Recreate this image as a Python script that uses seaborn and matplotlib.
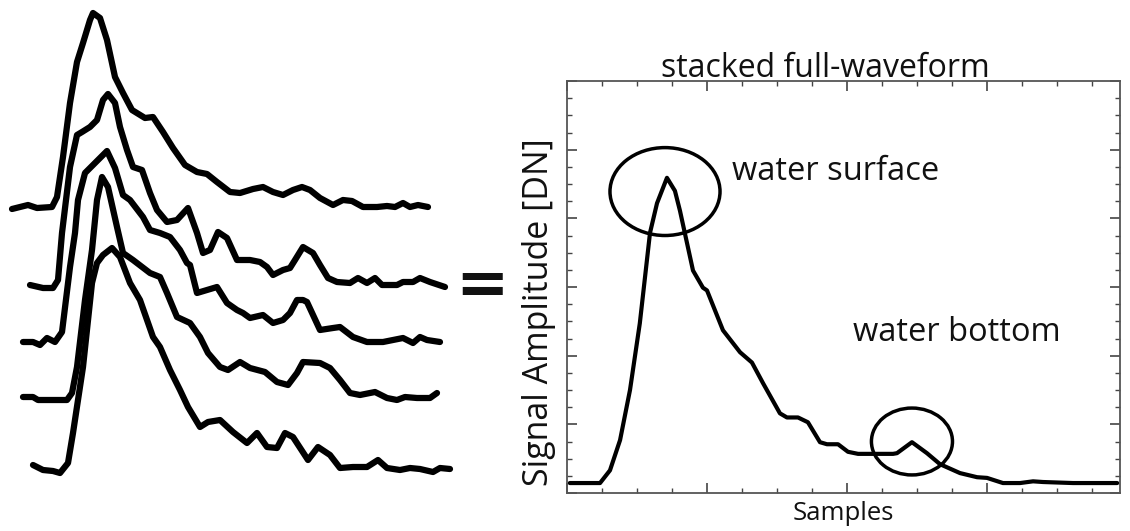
import seaborn as sns
import matplotlib.pyplot as plt
from matplotlib.patches import Ellipse
from matplotlib.ticker import MultipleLocator

# single waveforms (left panel), sample position and level
wave1_x = [12, 20, 28, 37, 52, 57, 63, 70, 77, 83, 90, 93, 100, 107, 115, 123, 132, 145, 153, 163,
           173, 185, 197, 207, 217, 230, 240, 253, 263, 273, 283, 293, 302, 310, 320, 333, 343, 352,
           363, 377, 387, 395, 403, 410, 418, 428]
wave1_y = [209, 207, 205, 208, 207, 197, 157, 103, 62, 43, 20, 13, 18, 40, 77, 93, 110, 118, 117, 132,
           148, 165, 172, 174, 182, 192, 193, 189, 187, 192, 195, 190, 187, 190, 198, 205, 200, 201,
           207, 207, 206, 207, 203, 207, 205, 207]

wave2_x = [30, 43, 53, 58, 62, 70, 77, 82, 90, 97, 103, 108, 115, 120, 127, 133, 142, 150, 157, 167,
           177, 188, 197, 203, 210, 218, 227, 237, 250, 260, 267, 273, 283, 290, 295, 303, 313, 320,
           328, 337, 350, 358, 367, 375, 382, 397, 403, 413, 420, 430, 445]
wave2_y = [285, 288, 288, 280, 233, 167, 135, 132, 127, 120, 100, 94, 103, 127, 150, 167, 170, 193, 210, 222,
           220, 208, 233, 253, 250, 232, 238, 260, 260, 262, 267, 275, 270, 268, 260, 247, 253, 265,
           278, 282, 283, 278, 283, 278, 285, 285, 282, 282, 278, 282, 287]

wave3_x = [23, 33, 40, 47, 55, 62, 70, 75, 78, 85, 95, 103, 107, 115, 123, 130, 143, 150, 160, 170,
           180, 187, 190, 197, 207, 217, 227, 237, 243, 250, 263, 273, 283, 290, 297, 303, 307, 320,
           333, 340, 353, 367, 383, 403, 413, 420, 427, 440]
wave3_y = [342, 342, 345, 338, 342, 332, 267, 233, 200, 173, 163, 155, 151, 168, 195, 200, 217, 230, 233, 237,
           250, 263, 265, 293, 290, 287, 303, 310, 313, 318, 315, 323, 320, 313, 300, 300, 302, 330,
           328, 327, 337, 342, 342, 338, 343, 337, 340, 342]

wave4_x = [23, 33, 38, 50, 67, 72, 77, 85, 92, 97, 102, 108, 117, 123, 133, 150, 160, 167, 177, 190,
           200, 208, 220, 228, 240, 250, 265, 277, 288, 297, 303, 320, 330, 340, 350, 360, 370, 375,
           387, 397, 405, 417, 430, 437]
wave4_y = [397, 397, 400, 400, 400, 393, 367, 300, 250, 200, 177, 187, 227, 253, 260, 273, 277, 293, 317, 323,
           337, 353, 367, 370, 362, 368, 372, 382, 385, 373, 362, 363, 368, 380, 393, 395, 393, 392,
           398, 400, 397, 398, 398, 393]

wave5_x = [33, 43, 53, 60, 68, 73, 83, 92, 97, 103, 112, 120, 130, 140, 153, 160, 170, 180, 188, 200,
           208, 220, 233, 247, 257, 267, 277, 285, 293, 308, 318, 330, 340, 353, 367, 378, 387, 400,
           410, 420, 433, 440, 450]
wave5_y = [465, 470, 471, 473, 463, 433, 367, 283, 263, 255, 248, 257, 283, 300, 337, 347, 370, 390, 407, 427,
           422, 420, 432, 443, 433, 447, 448, 433, 437, 460, 447, 455, 468, 467, 467, 460, 468, 470,
           468, 469, 472, 468, 469]

# stacked waveform (right panel)
stack_x = [0.02, 0.236, 0.307, 0.379, 0.45, 0.52, 0.593, 0.643, 0.714, 0.771, 0.807,
           0.9, 0.971, 1.0, 1.114, 1.236, 1.321, 1.4, 1.521, 1.571, 1.65,
           1.721, 1.807, 1.857, 1.936, 2.007, 2.079, 2.329, 2.357, 2.464, 2.571,
           2.664, 2.807, 2.929, 3.0, 3.114, 3.236, 3.329, 3.4, 3.614, 3.93]
stack_y = [0.145, 0.145, 0.33, 0.77, 1.50, 2.47, 3.79, 4.22, 4.59, 4.40, 4.11,
           3.24, 2.99, 2.95, 2.37, 2.05, 1.90, 1.60, 1.16, 1.10, 1.10,
           1.03, 0.74, 0.71, 0.71, 0.60, 0.57, 0.57, 0.58, 0.74, 0.58,
           0.42, 0.29, 0.23, 0.22, 0.145, 0.145, 0.17, 0.16, 0.145, 0.145]

labels = ["water surface", "water bottom"]
label_x = [1.18, 2.04]
label_y = [4.56, 2.22]
circle_x = [0.70, 2.464]
circle_y = [4.39, 0.75]
circle_w = [0.786, 0.579]
circle_h = [1.28, 0.974]

sns.set_theme(style='white')
plt.rcParams['font.family'] = ['Open Sans', 'DejaVu Sans']

fig = plt.figure(figsize=(11.3, 5.31), dpi=100)

# left: the single returns
left = fig.add_axes([0, 0, 455 / 1130, 1])
waves = [(wave1_x, wave1_y), (wave2_x, wave2_y), (wave3_x, wave3_y),
         (wave4_x, wave4_y), (wave5_x, wave5_y)]
for wx, wy in waves:
    sns.lineplot(x=wx, y=wy, ax=left, color='black', linewidth=4.5, sort=False,
                 solid_joinstyle='round', solid_capstyle='round')
left.set_xlim(0, 455)
left.set_ylim(531, 0)
left.axis('off')

fig.text(482 / 1130, 1 - 286 / 531, '=', ha='center', va='center', fontsize=46,
         fontweight='bold', family='DejaVu Sans', color='#111111')

# right: stacked waveform
ax = fig.add_axes([567 / 1130, 1 - 493 / 531, 553 / 1130, 412 / 531])
sns.lineplot(x=stack_x, y=stack_y, ax=ax, color='black', linewidth=3, sort=False)
for cx, cy, cw, ch in zip(circle_x, circle_y, circle_w, circle_h):
    ax.add_patch(Ellipse((cx, cy), cw, ch, fill=False, edgecolor='black', linewidth=2.5))
for txt, tx, ty in zip(labels, label_x, label_y):
    ax.text(tx, ty, txt, fontsize=23.5, va='baseline', ha='left', color='#111111')

ax.set_xlim(0, 3.95)
ax.set_ylim(0, 6)
ax.xaxis.set_major_locator(MultipleLocator(1))
ax.xaxis.set_minor_locator(MultipleLocator(0.25))
ax.yaxis.set_major_locator(MultipleLocator(1))
ax.yaxis.set_minor_locator(MultipleLocator(0.25))
ax.tick_params(which='both', direction='in', bottom=True, left=True, top=True, right=True,
               labelbottom=False, labelleft=False, color='#444444')
ax.tick_params(which='major', length=7, width=1.2)
ax.tick_params(which='minor', length=3.5, width=1.0)
for s in ax.spines.values():
    s.set_color('#555555')
    s.set_linewidth(1.3)

ax.set_title('stacked full-waveform', fontsize=23, pad=3, x=0.468, color='#111111')
ax.set_xlabel('Samples', fontsize=18.5, labelpad=6, color='#111111')
ax.set_ylabel('Signal Amplitude [DN]', fontsize=24.5, color='#111111')
ax.yaxis.set_label_coords(-0.02, 0.44)

fig.savefig('out.png', dpi=100)
